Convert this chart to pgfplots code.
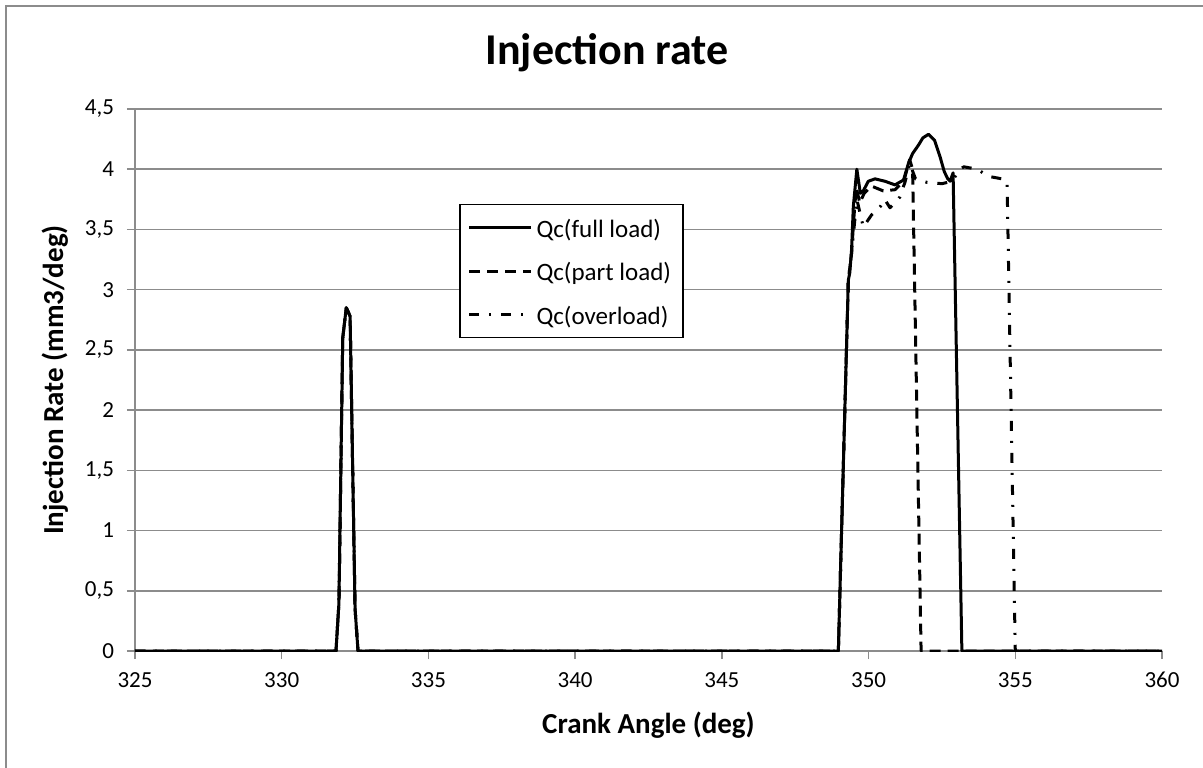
\documentclass[border=0pt]{standalone}
\usepackage{fontspec}
\setmainfont{Carlito}
\usepackage{pgfplots}
\pgfplotsset{compat=1.18}
\begin{document}
\begin{tikzpicture}
\useasboundingbox (-67.5pt,-58pt) rectangle (534pt,325.5pt);
\draw[black!45, line width=0.75pt] (-64.5pt,-70pt) -- (-64.5pt,322.5pt) -- (545pt,322.5pt);
\begin{axis}[
  at={(0,0)}, anchor=south west,
  width=513.5pt, height=271pt, scale only axis,
  xmin=325, xmax=360, ymin=0, ymax=4.5,
  xtick={325,330,...,360}, ytick={0,0.5,...,4.5},
  axis lines=left, axis line style={-, black!45, line width=0.75pt},
  ymajorgrids, major grid style={black!45, line width=0.75pt},
  tick style={black!45, line width=0.75pt}, tick align=outside, major tick length=4pt,
  ticklabel style={font=\fontsize{11.5}{14}\selectfont, black},
  yticklabel style={xshift=-3pt},
  xticklabel style={yshift=-3pt},
  title={Injection rate},
  title style={font=\bfseries\fontsize{22}{26}\selectfont, at={(axis description cs:0.4596,1.0591)}, anchor=base},
  xlabel={Crank Angle (deg)},
  xlabel style={font=\bfseries\fontsize{14.5}{17}\selectfont, at={(axis description cs:0.5,-0.1513)}, anchor=base},
  ylabel={Injection Rate (mm3/deg)},
  ylabel style={font=\bfseries\fontsize{14.5}{17}\selectfont, at={(axis description cs:-0.0699,0.5)}, anchor=base},
  legend style={at={(0.3158,0.8247)}, anchor=north west, draw=black, line width=0.65pt,
     font=\fontsize{12.5}{15}\selectfont, row sep=5.2pt, inner xsep=4pt, inner ysep=3.3pt,
     nodes={inner xsep=2pt, inner ysep=2pt, text height=11pt, text depth=1.5pt}},
  legend cell align=left,
  legend image code/.code={\draw[#1] (0pt,0pt) -- (30.8pt,0pt);},
  /pgf/number format/use comma,
  /pgf/number format/assume math mode=true,
]
\addplot[black, line width=1.5pt, line join=round] coordinates {
(325,0)(331.85,0)(331.95,0.4)(332.08,2.6)(332.2,2.85)(332.33,2.78)(332.5,0.35)(332.6,0)
(348.97,0)(349.31,3.08)(349.36,3.14)(349.42,3.33)(349.48,3.69)(349.6,4.0)(349.72,3.8)(349.82,3.82)
(349.99,3.9)(350.22,3.92)(350.56,3.9)(350.9,3.87)(351.19,3.91)(351.36,4.05)(351.5,4.13)(351.7,4.2)
(351.85,4.26)(352.04,4.29)(352.25,4.24)(352.44,4.1)(352.58,3.98)(352.7,3.92)(352.78,3.9)(352.88,3.97)
(353.18,0)(360,0)};
\addlegendentry{Qc(full load)}
\addplot[black, line width=1.5pt, line join=round, dash pattern=on 5.5pt off 3.5pt] coordinates {
(325,0)(331.85,0)(331.95,0.4)(332.08,2.6)(332.2,2.85)(332.33,2.78)(332.5,0.35)(332.6,0)
(348.97,0)(349.31,3.08)(349.42,3.3)(349.5,3.6)(349.58,3.85)(349.7,3.72)(349.85,3.8)(350.1,3.86)
(350.5,3.82)(350.9,3.83)(351.2,3.9)(351.4,4.08)(351.5,4.0)(351.79,0)(360,0)};
\addlegendentry{Qc(part load)}
\addplot[black, line width=1.5pt, line join=round, dash pattern=on 5pt off 5pt on 1pt off 5pt] coordinates {
(325,0)(331.85,0)(331.95,0.4)(332.08,2.6)(332.2,2.85)(332.33,2.78)(332.5,0.35)(332.6,0)
(348.97,0)(349.31,3.08)(349.42,3.3)(349.5,3.5)(349.6,3.75)(349.82,3.52)(350.1,3.62)(350.4,3.69)
(350.55,3.75)(350.73,3.68)(351.07,3.77)(351.25,3.9)(351.4,4.05)(351.6,3.92)(352.0,3.89)(352.5,3.88)
(352.85,3.9)(353.1,4.0)(353.25,4.02)(353.7,4.0)(354.1,3.94)(354.55,3.92)(354.72,3.9)(355.0,0)(360,0)};
\addlegendentry{Qc(overload)}
\end{axis}
\end{tikzpicture}
\end{document}
